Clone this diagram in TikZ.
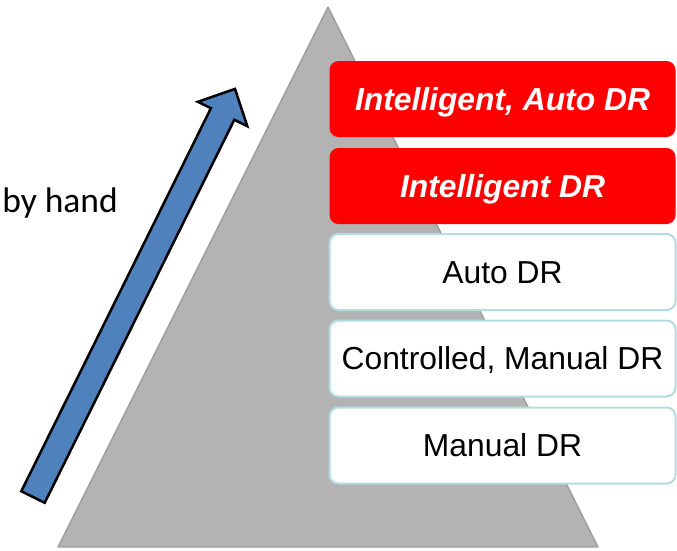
\documentclass[tikz,border=0pt]{standalone}
\usepackage{fontspec}
\setmainfont{Liberation Sans}
\newfontfamily\calib{Carlito}
\definecolor{trigray}{HTML}{B3B3B3}
\definecolor{triedge}{HTML}{999999}
\definecolor{arrowblue}{HTML}{4F81BD}
\definecolor{boxred}{HTML}{FF0000}
\definecolor{boxedge}{HTML}{B2DCE0}
\begin{document}
\begin{tikzpicture}[x=1pt,y=-1pt,
  levelbox/.style={rounded corners=9pt, minimum width=346pt, minimum height=76pt,
    inner sep=0pt, text height=22.5pt, text depth=0pt, anchor=center,
    font=\fontsize{31.8}{36}\selectfont},
  redbox/.style={levelbox, fill=boxred, text=white, font=\fontsize{31.8}{36}\selectfont\bfseries\itshape},
  whitebox/.style={levelbox, fill=white, draw=boxedge, line width=2pt, text=black},
  bigarrow/.style={fill=arrowblue, draw=black, line width=2.5pt, line join=miter}
]
\useasboundingbox (0,0) rectangle (677,550);
% pyramid
\coordinate (apex) at (328,7);
\coordinate (bl) at (58,547);
\coordinate (br) at (598,547);
\fill[trigray] (apex) -- (br) -- (bl) -- cycle;
\draw[triedge, line width=1.2pt, line join=round] (apex) -- (br) -- (bl) -- cycle;
% arrow
\draw[bigarrow] (21.3,491.2) -- (210.9,108.2) -- (197.9,101.8) -- (235,88.9)
  -- (247.3,126.2) -- (234.3,119.8) -- (44.7,502.8) -- cycle;
% label
\node[font=\calib\fontsize{35.5}{40}\selectfont, anchor=base east, inner sep=0pt] (hand) at (118,212) {by hand};
% level boxes
\node[redbox] (b1) at (502.5,99) {Intelligent, Auto DR};
\node[redbox] (b2) at (502.5,186) {Intelligent DR};
\node[whitebox] (b3) at (502.5,272) {Auto DR};
\node[whitebox] (b4) at (502.5,358.5) {Controlled, Manual DR};
\node[whitebox] (b5) at (502.5,445.5) {Manual DR};
\end{tikzpicture}
\end{document}
